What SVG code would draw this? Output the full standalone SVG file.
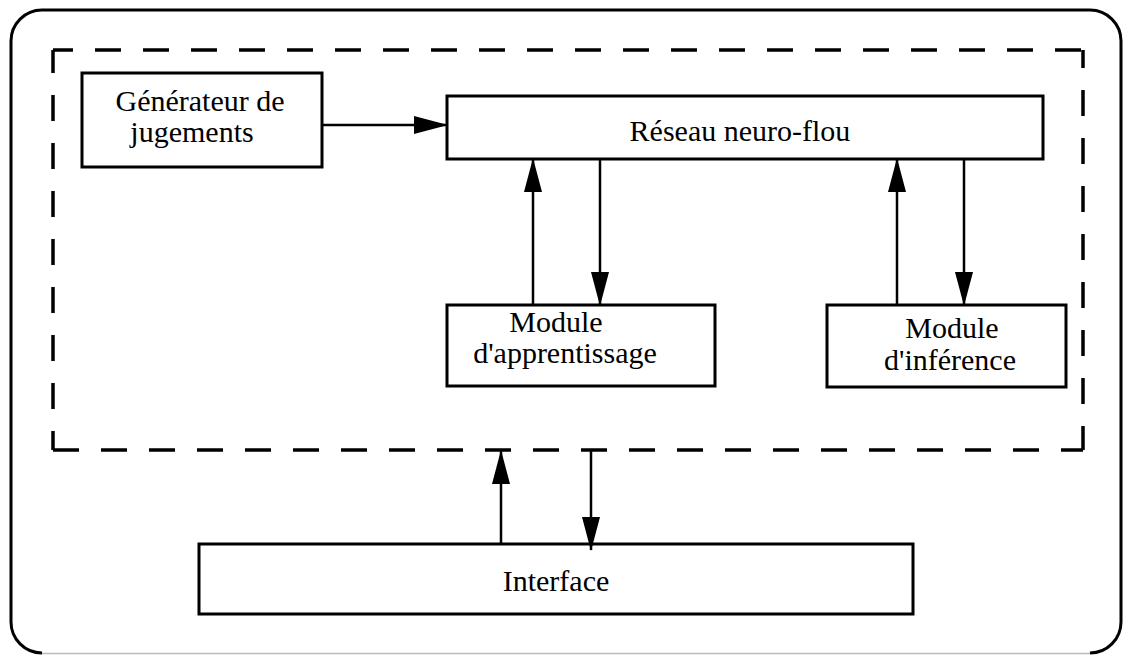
<svg xmlns="http://www.w3.org/2000/svg" width="1128" height="655" viewBox="0 0 1128 655">
<defs>
<style>
.box{fill:#fff;stroke:#000;stroke-width:3}
.lbl{font-family:"Liberation Serif","Times New Roman",serif;font-size:30px;fill:#000;text-anchor:middle}
.con{stroke:#000;stroke-width:2.5;fill:none;marker-end:url(#ah)}
.dash{stroke:#000;stroke-width:3.5;fill:none;stroke-dasharray:26 22}
</style>
<marker id="ah" markerUnits="userSpaceOnUse" markerWidth="34" markerHeight="18" refX="33" refY="9" orient="auto">
<path d="M0,0 L34,9 L0,18 z" fill="#000"/>
</marker>
</defs>
<rect width="1128" height="655" fill="#fff"/>
<g id="frame">
<path d="M42,653 A31,31 0 0 1 11,622 L11,41 A31,31 0 0 1 42,10 L1090,10 A31,31 0 0 1 1121,41 L1121,622 A31,31 0 0 1 1090,653" fill="none" stroke="#000" stroke-width="3"/>
<line x1="42" y1="653.5" x2="1090" y2="653.5" stroke="#bbb" stroke-width="1.5"/>
</g>
<g id="system-boundary">
<line class="dash" x1="53" y1="50" x2="1083" y2="50" stroke-dashoffset="6"/>
<line class="dash" x1="53" y1="450" x2="1083" y2="450" stroke-dashoffset="0"/>
<line class="dash" x1="53" y1="50" x2="53" y2="450" stroke-dashoffset="3"/>
<line class="dash" x1="1083" y1="50" x2="1083" y2="450" stroke-dashoffset="8"/>
</g>
<g id="generateur">
<rect class="box" x="82" y="73" width="240" height="94"/>
<text class="lbl" x="200" y="111">Générateur de</text>
<text class="lbl" x="192" y="142">jugements</text>
</g>
<g id="reseau">
<rect class="box" x="447" y="96" width="596" height="63"/>
<text class="lbl" x="740" y="141">Réseau neuro-flou</text>
</g>
<g id="module-apprentissage">
<rect class="box" x="447" y="305" width="268" height="81"/>
<text class="lbl" x="556" y="332">Module</text>
<text class="lbl" x="565" y="363">d'apprentissage</text>
</g>
<g id="module-inference">
<rect class="box" x="827" y="305" width="239" height="82"/>
<text class="lbl" x="952" y="338">Module</text>
<text class="lbl" x="950" y="370">d'inférence</text>
</g>
<g id="interface">
<rect class="box" x="199" y="544" width="714" height="70"/>
<text class="lbl" x="556" y="591">Interface</text>
</g>
<g id="connectors">
<line class="con" x1="322" y1="125" x2="447" y2="125"/>
<line class="con" x1="533" y1="305" x2="533" y2="159"/>
<line class="con" x1="600" y1="159" x2="600" y2="305"/>
<line class="con" x1="897" y1="305" x2="897" y2="159"/>
<line class="con" x1="964" y1="159" x2="964" y2="305"/>
<line class="con" x1="501" y1="544" x2="501" y2="451"/>
<line class="con" x1="591" y1="451" x2="591" y2="550"/>
</g>
</svg>
